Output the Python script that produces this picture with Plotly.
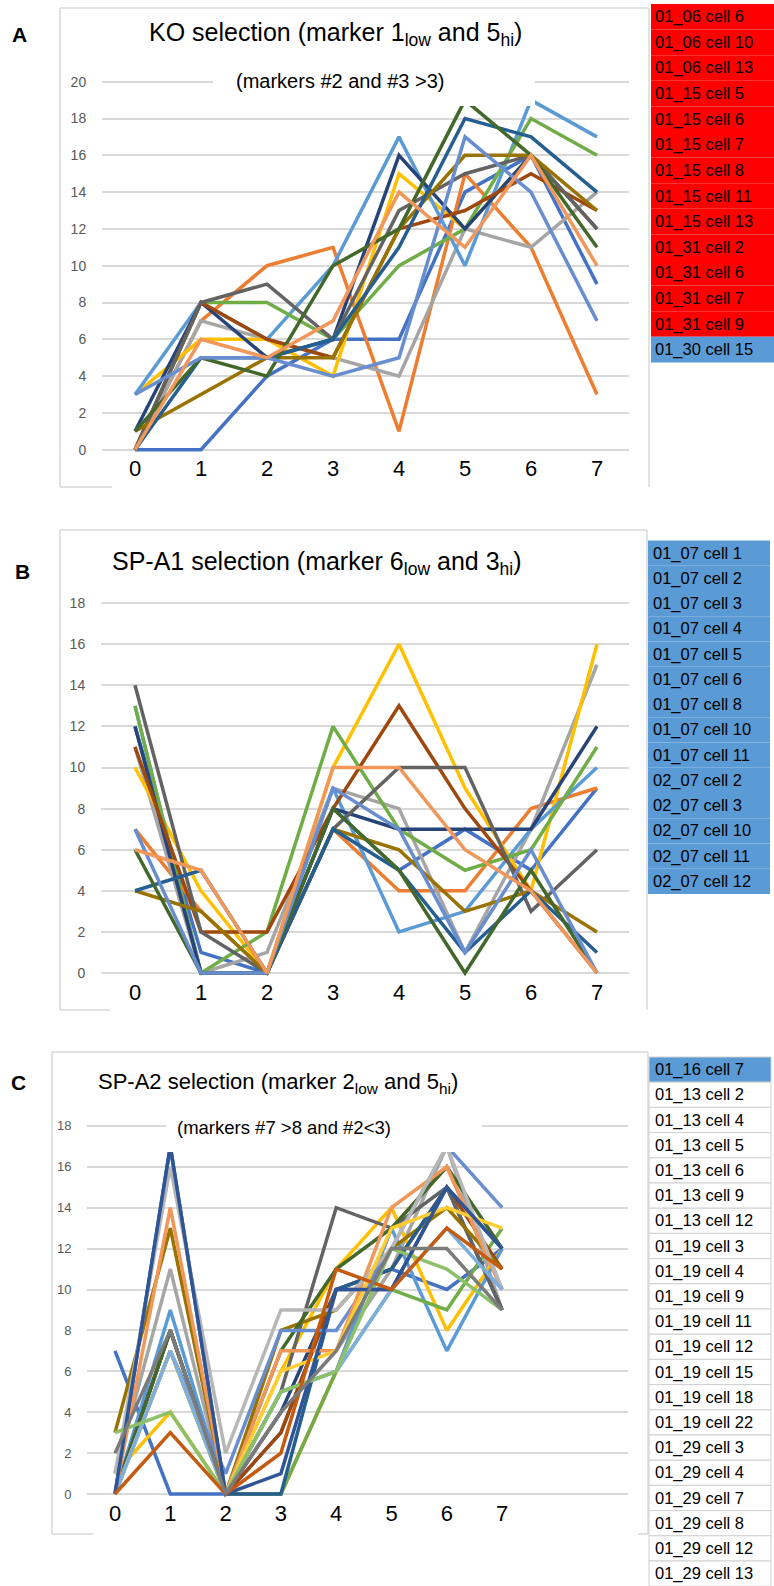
import plotly.graph_objects as go

W, H = 774, 1586

# ---------------- data ----------------
x_values = [0, 1, 2, 3, 4, 5, 6, 7]
x_tick_text = ["0", "1", "2", "3", "4", "5", "6", "7"]

ko_labels = ["01_06 cell 6", "01_06 cell 10", "01_06 cell 13", "01_15 cell 5",
             "01_15 cell 6", "01_15 cell 7", "01_15 cell 8", "01_15 cell 11",
             "01_15 cell 13", "01_31 cell 2", "01_31 cell 6", "01_31 cell 7",
             "01_31 cell 9", "01_30 cell 15"]
ko_values = [
    [0, 0, 4, 6, 6, 14, 16, 9],
    [0, 7, 10, 11, 1, 15, 11, 3],
    [0, 7, 6, 5, 4, 12, 11, 14],
    [3, 6, 6, 4, 15, 12, 16, 12],
    [3, 8, 6, 10, 17, 10, 19, 17],
    [0, 8, 8, 6, 10, 12, 18, 16],
    [1, 8, 5, 6, 16, 12, 16, 12],
    [0, 8, 6, 5, 12, 13, 15, 13],
    [0, 8, 9, 6, 13, 15, 16, 12],
    [1, 3, 5, 5, 12, 16, 16, 13],
    [0, 5, 5, 6, 11, 18, 17, 14],
    [1, 5, 4, 10, 12, 19, 16, 11],
    [3, 5, 5, 4, 5, 17, 14, 7],
    [0, 6, 5, 7, 14, 11, 16, 10],
]

spa1_labels = ["01_07 cell 1", "01_07 cell 2", "01_07 cell 3", "01_07 cell 4",
               "01_07 cell 5", "01_07 cell 6", "01_07 cell 8", "01_07 cell 10",
               "01_07 cell 11", "02_07 cell 2", "02_07 cell 3", "02_07 cell 10",
               "02_07 cell 11", "02_07 cell 12"]
spa1_values = [
    [12, 1, 0, 8, 5, 7, 5, 9],
    [7, 3, 0, 7, 4, 4, 8, 9],
    [11, 0, 1, 9, 8, 1, 7, 15],
    [10, 4, 0, 10, 16, 9, 4, 16],
    [13, 0, 0, 9, 2, 3, 7, 10],
    [13, 0, 2, 12, 7, 5, 6, 11],
    [12, 0, 0, 8, 7, 7, 7, 12],
    [11, 2, 2, 8, 13, 8, 4, 0],
    [14, 2, 0, 7, 10, 10, 3, 6],
    [4, 3, 0, 7, 6, 3, 4, 2],
    [4, 5, 0, 7, 5, 1, 4, 1],
    [6, 0, 0, 8, 5, 0, 5, 0],
    [7, 0, 0, 9, 7, 1, 6, 0],
    [6, 5, 0, 10, 10, 6, 4, 0],
]

spa2_labels = ["01_16 cell 7", "01_13 cell 2", "01_13 cell 4", "01_13 cell 5",
               "01_13 cell 6", "01_13 cell 9", "01_13 cell 12", "01_19 cell 3",
               "01_19 cell 4", "01_19 cell 9", "01_19 cell 11", "01_19 cell 12",
               "01_19 cell 15", "01_19 cell 18", "01_19 cell 22", "01_29 cell 3",
               "01_29 cell 4", "01_29 cell 7", "01_29 cell 8", "01_29 cell 12",
               "01_29 cell 13"]
spa2_values = [
    [7, 0, 0, 3, 10, 11, 10, 12],
    [0, 7, 0, 0, 6, 13, 16, 10],
    [1, 11, 0, 4, 7, 11, 17, 9],
    [1, 4, 0, 6, 11, 14, 8, 12],
    [0, 9, 0, 5, 6, 13, 7, 12],
    [0, 7, 0, 0, 6, 10, 9, 13],
    [0, 8, 0, 4, 10, 10, 15, 9],
    [0, 8, 0, 3, 10, 11, 15, 11],
    [0, 8, 0, 5, 14, 13, 15, 9],
    [3, 13, 0, 8, 9, 12, 14, 11],
    [0, 17, 0, 0, 10, 11, 15, 12],
    [0, 8, 0, 7, 11, 13, 16, 12],
    [0, 7, 1, 8, 8, 12, 17, 14],
    [0, 14, 0, 7, 7, 14, 16, 10],
    [1, 16, 2, 9, 9, 12, 17, 10],
    [0, 7, 0, 6, 7, 13, 14, 13],
    [0, 7, 0, 5, 6, 10, 13, 10],
    [3, 4, 0, 5, 6, 12, 11, 9],
    [0, 17, 0, 1, 10, 10, 15, 12],
    [0, 3, 0, 2, 11, 10, 13, 11],
    [2, 8, 0, 4, 7, 12, 12, 9],
]

# ---------------- styles ----------------
palette = ["#4472C4", "#ED7D31", "#A5A5A5", "#FFC000", "#5B9BD5", "#70AD47",
           "#264478", "#9E480E", "#636363", "#997300", "#255E91", "#43682B",
           "#698ED0", "#F1975A", "#B7B7B7", "#FFCD33", "#7CAFDD", "#8CC168",
           "#2F5597", "#C55A11", "#7B7B7B"]
RED, BLUE = "#FF0000", "#5B9BD5"
ko_fill = [RED] * 13 + [BLUE]
spa1_fill = [BLUE] * 14
spa2_fill = [BLUE] + ["#FFFFFF"] * 20

FONT = "Liberation Sans, Arial, sans-serif"
GRID = "#D9D9D9"


def px(x):
    return x / W


def py(y):
    return 1 - y / H


panels = [
    dict(values=ko_values, gx0=102, gx1=629, x0pix=135, xunit=66.0,
         y0pix=449.7, yunit=18.4, ymax=20, tick_size=14, xlab_size=22),
    dict(values=spa1_values, gx0=101, gx1=629, x0pix=135, xunit=66.0,
         y0pix=973.0, yunit=20.55, ymax=18, tick_size=14, xlab_size=22),
    dict(values=spa2_values, gx0=87, gx1=628, x0pix=115, xunit=55.3,
         y0pix=1494.0, yunit=20.45, ymax=18, tick_size=13, xlab_size=22),
]

fig = go.Figure()
layout = dict(width=W, height=H, margin=dict(l=0, r=0, t=0, b=0),
              paper_bgcolor="white", plot_bgcolor="white", showlegend=False)

for k, p in enumerate(panels):
    sfx = "" if k == 0 else str(k + 1)
    r0 = -(p["x0pix"] - p["gx0"]) / p["xunit"]
    r1 = r0 + (p["gx1"] - p["gx0"]) / p["xunit"]
    ybot = p["y0pix"] + 0.5 * p["yunit"]
    ytop = p["y0pix"] - (p["ymax"] + 0.5) * p["yunit"]
    layout["xaxis" + sfx] = dict(
        domain=[px(p["gx0"]), px(p["gx1"])], range=[r0, r1],
        anchor="y" + sfx, showgrid=False, zeroline=False, showline=False,
        tickmode="array", tickvals=x_values, ticktext=x_tick_text,
        ticks="", ticklabelstandoff=-6,
        tickfont=dict(family=FONT, size=p["xlab_size"], color="black"))
    layout["yaxis" + sfx] = dict(
        domain=[py(ybot), py(ytop)], range=[-0.5, p["ymax"] + 0.5],
        anchor="x" + sfx, showgrid=True, gridcolor=GRID, gridwidth=1.6,
        zeroline=False, showline=False, tickmode="linear", tick0=0, dtick=2,
        ticks="outside", ticklen=12, tickcolor="rgba(0,0,0,0)",
        tickfont=dict(family=FONT, size=p["tick_size"], color="#595959"))
    for i, vals in enumerate(p["values"]):
        fig.add_trace(go.Scatter(
            x=x_values, y=vals, mode="lines",
            line=dict(color=palette[i], width=3.5),
            xaxis="x" + sfx, yaxis="y" + sfx, hoverinfo="skip"))

shapes = []
annotations = []


def hline(x0, x1, y, color=GRID, w=1.5):
    shapes.append(dict(type="line", xref="paper", yref="paper",
                       x0=px(x0), x1=px(x1), y0=py(y), y1=py(y),
                       line=dict(color=color, width=w)))


def vline(x, y0, y1, color=GRID, w=1.5):
    shapes.append(dict(type="line", xref="paper", yref="paper",
                       x0=px(x), x1=px(x), y0=py(y0), y1=py(y1),
                       line=dict(color=color, width=w)))


def box(x0, x1, y0, y1, fill, line=None, layer="above"):
    shapes.append(dict(type="rect", xref="paper", yref="paper", layer=layer,
                       x0=px(x0), x1=px(x1), y0=py(y1), y1=py(y0),
                       fillcolor=fill,
                       line=dict(width=0 if line is None else 1,
                                 color=line or fill)))


def text(x, y, s, size, xanchor="center", bold=False, color="black"):
    annotations.append(dict(xref="paper", yref="paper", x=px(x), y=py(y),
                            text=("<b>%s</b>" % s) if bold else s,
                            showarrow=False, xanchor=xanchor, yanchor="middle",
                            font=dict(family=FONT, size=size, color=color)))


# chart frames
vline(60, 8, 487); hline(60, 649, 8); vline(649, 8, 487); hline(60, 112, 487)
vline(60, 530, 1010); hline(60, 647, 530); vline(647, 530, 1010); hline(60, 110, 1010)
vline(52, 1052, 1534); hline(52, 648, 1052); vline(648, 1052, 1534)
hline(52, 93, 1534); hline(638, 648, 1534)

# white boxes behind subtitles (cover the lines)
box(213, 535, 60, 106, "white")
box(166, 482, 1100, 1152, "white")

# titles
text(335, 34, "KO selection (marker 1<sub>low</sub> and 5<sub>hi</sub>)", 25)
text(340, 81, "(markers #2 and #3 >3)", 20)
text(317, 563, "SP-A1 selection (marker 6<sub>low</sub> and 3<sub>hi</sub>)", 25)
text(278, 1083, "SP-A2 selection (marker 2<sub>low</sub> and 5<sub>hi</sub>)", 22)
text(284, 1127, "(markers #7 >8 and #2<3)", 18.5)

# panel letters
text(19.5, 34, "A", 21, bold=True)
text(22, 571, "B", 21, bold=True)
text(18, 1082, "C", 21, bold=True)

# tables
rh = 25.6
for i, lab in enumerate(ko_labels):
    y0 = 4 + rh * i
    box(651, 774, y0, y0 + rh, ko_fill[i])
    text(653, y0 + rh / 2, lab, 16.5, xanchor="left")

rh = 25.26
for i, lab in enumerate(spa1_labels):
    y0 = 540.4 + rh * i
    box(648, 770, y0, y0 + rh, spa1_fill[i])
    text(651, y0 + rh / 2, lab, 16.5, xanchor="left")

rh = 25.2
for i, lab in enumerate(spa2_labels):
    y0 = 1057 + rh * i
    box(649, 771, y0, y0 + rh, spa2_fill[i], line="#D0D0D0")
    text(653, y0 + rh / 2, lab, 16.5, xanchor="left")

layout["shapes"] = shapes
layout["annotations"] = annotations
fig.update_layout(**layout)
fig.write_html("out.html")
